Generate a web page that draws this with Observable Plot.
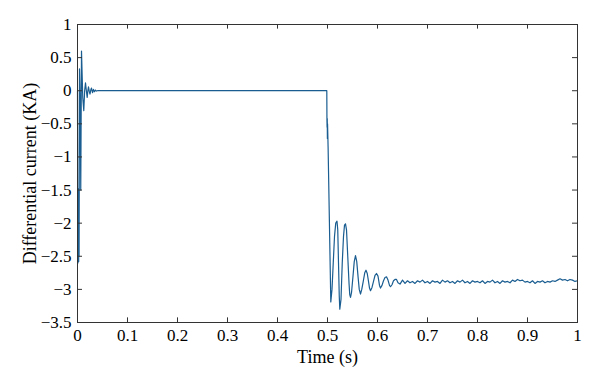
<!DOCTYPE html>
<html><head><meta charset="utf-8">
<script src="https://cdn.jsdelivr.net/npm/d3@7"></script>
<script src="https://cdn.jsdelivr.net/npm/@observablehq/plot@0.6"></script>
<style>
body{margin:0;background:#fff}
#chart svg, #chart svg text, #chart svg tspan{font-family:"Liberation Serif","DejaVu Serif",serif !important;}
#chart svg g[aria-label*="tick label"] text{font-size:17px !important;}
</style>
</head><body><div id="chart"></div>
<script>
// Initial energisation transient (s, kA)
const startTime = [0, 0.0004, 0.0008, 0.0012, 0.0016, 0.002, 0.0024, 0.0028, 0.0032, 0.004, 0.0055, 0.0065, 0.008, 0.0105, 0.0126, 0.0143, 0.016, 0.0177, 0.0194, 0.0207, 0.022, 0.0235, 0.025, 0.0265, 0.028, 0.030, 0.032, 0.034, 0.036, 0.038, 0.04];
const startCurrent = [0, -1.5, -2.6, -1.5, -2.55, -1.48, -2.58, -1.5, -2.5, 0.33, -0.2, -1.5, 0.6, -0.1, -0.3, 0.0, 0.12, 0.0, -0.1, 0.0, 0.06, -0.01, -0.05, 0.01, 0.04, -0.03, 0.02, -0.015, 0.01, -0.005, 0];
// Fault at 0.5 s and damped oscillation
const faultTime = [0.4986, 0.4989, 0.4992, 0.4995, 0.4998, 0.5001, 0.5012, 0.5066,
  0.509, 0.5115, 0.514, 0.5165, 0.519, 0.5205, 0.522, 0.5235, 0.5246,
  0.527, 0.5295, 0.532, 0.534, 0.536, 0.538, 0.5405, 0.543, 0.5445, 0.546,
  0.548, 0.551, 0.5535, 0.556, 0.5585, 0.561, 0.5635, 0.566,
  0.5685, 0.5715, 0.5745, 0.577, 0.5795, 0.582, 0.584, 0.586,
  0.589, 0.592, 0.595, 0.598, 0.601, 0.604, 0.606,
  0.609, 0.612, 0.615, 0.618, 0.621, 0.624, 0.626,
  0.629, 0.632, 0.635, 0.638, 0.641];
const faultCurrent = [0, -0.45, -0.55, -0.42, -0.72, -0.5, -0.85, -3.19,
  -3.0, -2.6, -2.2, -2.0, -1.97, -2.1, -2.6, -3.1, -3.3,
  -3.15, -2.6, -2.2, -2.03, -2.01, -2.1, -2.5, -2.9, -3.08, -3.12,
  -3.05, -2.8, -2.58, -2.49, -2.58, -2.8, -3.0, -3.07,
  -3.0, -2.88, -2.75, -2.71, -2.76, -2.88, -2.98, -3.02,
  -2.97, -2.88, -2.79, -2.76, -2.8, -2.94, -2.98,
  -2.94, -2.87, -2.82, -2.81, -2.86, -2.94, -2.96,
  -2.93, -2.87, -2.85, -2.85, -2.9];
// Steady state after the fault
const steadyTime = [0.645,0.65,0.655,0.66,0.665,0.67,0.675,0.68,0.685,0.69,
  0.695,0.7,0.705,0.71,0.715,0.72,0.725,0.73,0.735,0.74,
  0.745,0.75,0.755,0.76,0.765,0.77,0.775,0.78,0.785,0.79,
  0.795,0.8,0.805,0.81,0.815,0.82,0.825,0.83,0.835,0.84,
  0.845,0.85,0.855,0.86,0.865,0.87,0.875,0.88,0.885,0.89,
  0.895,0.9,0.905,0.91,0.915,0.92,0.925,0.93,0.935,0.94,
  0.945,0.95,0.955,0.96,0.965,0.97,0.975,0.98,0.985,0.99,
  0.995,1.0];
const steadyCurrent = [-2.92,-2.86,-2.91,-2.87,-2.90,-2.88,-2.91,-2.87,-2.89,-2.86,
  -2.90,-2.88,-2.91,-2.87,-2.89,-2.88,-2.91,-2.86,-2.89,-2.87,
  -2.90,-2.88,-2.91,-2.87,-2.89,-2.86,-2.90,-2.88,-2.91,-2.87,
  -2.89,-2.88,-2.90,-2.87,-2.91,-2.88,-2.89,-2.86,-2.90,-2.88,
  -2.91,-2.87,-2.89,-2.88,-2.90,-2.86,-2.88,-2.85,-2.87,-2.86,
  -2.89,-2.88,-2.90,-2.87,-2.91,-2.88,-2.89,-2.87,-2.90,-2.88,
  -2.89,-2.87,-2.88,-2.86,-2.84,-2.86,-2.85,-2.87,-2.85,-2.86,
  -2.88,-2.87];

const xTicks = [0, 0.1, 0.2, 0.3, 0.4, 0.5, 0.6, 0.7, 0.8, 0.9, 1];
const yTicks = [1, 0.5, 0, -0.5, -1, -1.5, -2, -2.5, -3, -3.5];
const xLabel = "Time (s)";
const yLabel = "Differential current (KA)";

const time = [...startTime, ...faultTime, ...steadyTime];
const current = [...startCurrent, ...faultCurrent, ...steadyCurrent];
const data = time.map((t, i) => ({t, v: current[i]}));

const fmt = d3.format("");
const plot = Plot.plot({
  width: 600, height: 391,
  marginLeft: 77, marginRight: 23, marginTop: 24, marginBottom: 69,
  style: {background: "#fff", color: "#000", fontSize: "16px"},
  x: {domain: [0, 1]},
  y: {domain: [-3.5, 1]},
  marks: [
    Plot.line(data, {x: "t", y: "v", stroke: "#1a5d91", strokeWidth: 1.2}),
    Plot.frame({stroke: "#333", strokeWidth: 1}),
    Plot.ruleX(xTicks, {x: d => d, y1: -3.5, y2: -3.43, stroke: "#333"}),
    Plot.ruleX(xTicks, {x: d => d, y1: 1, y2: 0.93, stroke: "#333"}),
    Plot.ruleY(yTicks, {y: d => d, x1: 0, x2: 0.01, stroke: "#333"}),
    Plot.ruleY(yTicks, {y: d => d, x1: 1, x2: 0.99, stroke: "#333"}),
    Plot.axisX(xTicks, {tickSize: 0, tickPadding: 6, tickFormat: fmt, label: null, fontSize: 17}),
    Plot.axisY(yTicks, {tickSize: 0, tickPadding: 6, tickFormat: fmt, label: null, fontSize: 17}),
    Plot.text([xLabel], {frameAnchor: "bottom", textAnchor: "middle", lineAnchor: "middle", dy: 35, fontSize: 18, fill: "#000"}),
    Plot.text([yLabel], {frameAnchor: "left", textAnchor: "middle", lineAnchor: "middle", dx: -47, rotate: -90, fontSize: 18, fill: "#000"})
  ]
});
document.getElementById("chart").appendChild(plot);
</script>
</body></html>
